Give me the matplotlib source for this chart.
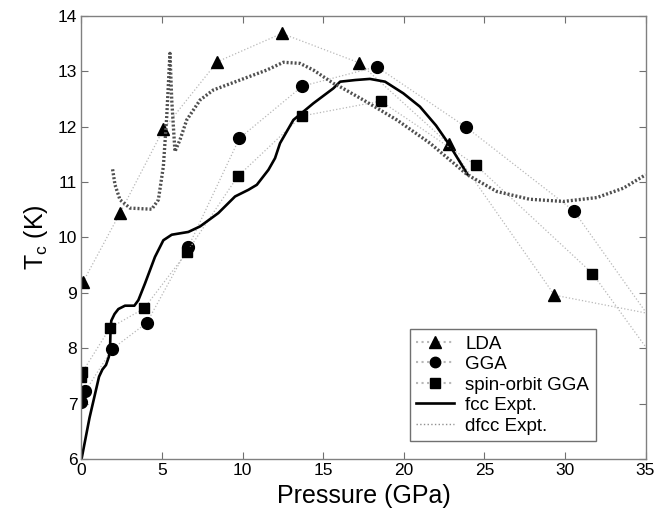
import matplotlib
matplotlib.use("Agg")
import matplotlib.pyplot as plt
from matplotlib.lines import Line2D

plt.rcParams['font.family'] = ['Liberation Sans', 'DejaVu Sans']
plt.rcParams['mathtext.fontset'] = 'custom'
plt.rcParams['mathtext.rm'] = 'Liberation Sans'
plt.rcParams['mathtext.it'] = 'Liberation Sans'

# LDA (last element = where the connecting line leaves the axes)
lda_p = [0.1, 2.39, 5.08, 8.43, 12.43, 17.23, 22.81, 29.35, 35.0]
lda_t = [9.2, 10.44, 11.95, 13.17, 13.68, 13.15, 11.68, 8.96, 8.64]
# GGA
gga_p = [0.0, 0.24, 1.91, 4.05, 6.63, 9.8, 13.71, 18.32, 23.87, 30.55, 35.0]
gga_t = [7.04, 7.23, 7.99, 8.46, 9.83, 11.79, 12.73, 13.08, 11.99, 10.48, 8.66]
# spin-orbit GGA
so_p = [0.0, 0.05, 1.77, 3.88, 6.53, 9.69, 13.67, 18.57, 24.49, 31.71, 35.0]
so_t = [7.49, 7.57, 8.37, 8.72, 9.73, 11.1, 12.19, 12.46, 11.3, 9.35, 8.03]
# fcc Expt.
fcc_p = [0.0, 0.5, 1.09, 1.3, 1.52, 1.7, 1.77, 1.8, 1.85, 2.05, 2.29, 2.7, 3.28,
         3.53, 3.94, 4.56, 5.08, 5.6, 6.63, 7.36, 8.49, 9.53, 10.36, 10.88, 11.6,
         12.01, 12.32, 13.15, 14.39, 15.63, 16.05, 17.0, 17.9, 18.84, 19.97, 21.0,
         22.0, 22.81, 23.95]
fcc_t = [6.0, 6.75, 7.49, 7.62, 7.7, 7.85, 7.97, 8.3, 8.5, 8.62, 8.71, 8.77, 8.77,
         8.87, 9.17, 9.65, 9.95, 10.05, 10.1, 10.2, 10.44, 10.74, 10.86, 10.95, 11.22,
         11.43, 11.7, 12.12, 12.42, 12.69, 12.81, 12.84, 12.86, 12.81, 12.6, 12.36,
         12.02, 11.68, 11.14]
# dfcc Expt.
dfcc_p = [1.93, 2.08, 2.39, 3.01, 4.36, 4.77, 5.08, 5.29, 5.49, 5.6, 5.8, 6.11,
          6.53, 7.36, 8.18, 9.84, 11.5, 12.53, 13.56, 14.39, 15.63, 16.04, 17.49,
          19.57, 21.63, 23.95, 25.77, 27.8, 29.9, 31.98, 33.63, 35.0]
dfcc_t = [11.23, 10.95, 10.68, 10.53, 10.51, 10.68, 11.28, 12.18, 13.32, 12.48,
          11.55, 11.76, 12.12, 12.48, 12.66, 12.84, 13.02, 13.16, 13.14, 13.02,
          12.78, 12.72, 12.48, 12.12, 11.7, 11.13, 10.83, 10.69, 10.65, 10.72,
          10.89, 11.13]

x_ticks = [0, 5, 10, 15, 20, 25, 30, 35]
y_ticks = [6, 7, 8, 9, 10, 11, 12, 13, 14]

fig = plt.figure(figsize=(6.69, 5.13), dpi=100)
ax = fig.add_axes([0.1218, 0.1047, 0.8431, 0.8647])

conn = dict(color='#b8b8b8', linestyle=':', linewidth=0.9, markerfacecolor='black',
            markeredgecolor='black', clip_on=True)
ax.plot(lda_p, lda_t, marker='^', markersize=9, markevery=list(range(len(lda_p) - 1)), **conn)
ax.plot(gga_p, gga_t, marker='o', markersize=8.5, markevery=list(range(len(gga_p) - 1)), **conn)
ax.plot(so_p, so_t, marker='s', markersize=7, markevery=list(range(len(so_p) - 1)), **conn)
ax.plot(fcc_p, fcc_t, color='black', linewidth=1.9, solid_joinstyle='round')
ax.plot(dfcc_p, dfcc_t, color='#505050', linestyle=(0, (0.6, 0.6)), linewidth=2.4)

ax.set_xlim(0, 35)
ax.set_ylim(6, 14)
ax.set_xticks(x_ticks)
ax.set_yticks(y_ticks)
ax.tick_params(direction='in', top=True, right=True, length=5, width=0.8,
               color='#707070', labelsize=12.5, pad=3)
for s in ax.spines.values():
    s.set_color('#808080')
    s.set_linewidth(1.0)

ax.set_xlabel('Pressure (GPa)', fontsize=18, labelpad=4)
ax.set_ylabel(r'T$_{\rm c}$ (K)', fontsize=18, labelpad=6)

handles = [
    Line2D([], [], color='#b8b8b8', linestyle=':', marker='^', markersize=8,
           markerfacecolor='black', markeredgecolor='black'),
    Line2D([], [], color='#b8b8b8', linestyle=':', marker='o', markersize=7.5,
           markerfacecolor='black', markeredgecolor='black'),
    Line2D([], [], color='#b8b8b8', linestyle=':', marker='s', markersize=6.5,
           markerfacecolor='black', markeredgecolor='black'),
    Line2D([], [], color='black', linewidth=1.9),
    Line2D([], [], color='#909090', linestyle=':', linewidth=1.0),
]
labels = ['LDA', 'GGA', 'spin-orbit GGA', 'fcc Expt.', 'dfcc Expt.']
leg = ax.legend(handles, labels, loc='lower left', bbox_to_anchor=(0.582, 0.041),
                fontsize=13.5, frameon=True, fancybox=False, framealpha=1,
                edgecolor='#707070', handlelength=2.0, handletextpad=0.6,
                labelspacing=0.18, borderpad=0.35, borderaxespad=0)
leg.get_frame().set_linewidth(1.0)

fig.savefig('out.png', dpi=100)
